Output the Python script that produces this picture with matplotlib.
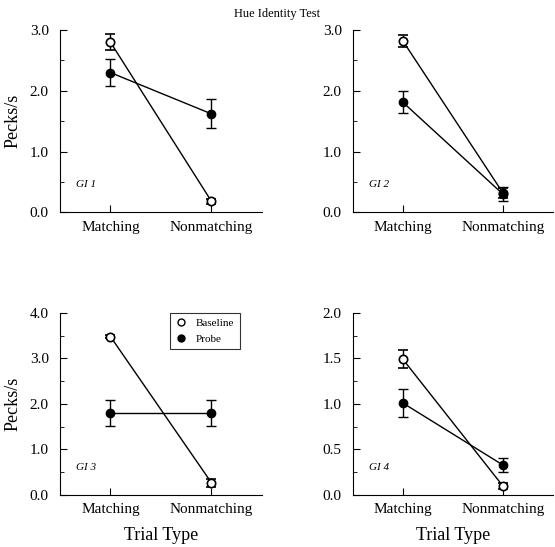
import matplotlib
matplotlib.use('Agg')
import matplotlib.pyplot as plt
from matplotlib.ticker import MultipleLocator
from matplotlib.lines import Line2D

plt.rcParams['font.family'] = ['Liberation Serif', 'DejaVu Serif']

trial_types = ['Matching', 'Nonmatching']
panel_names = ['GI 1', 'GI 2', 'GI 3', 'GI 4']

baseline = [[2.80, 0.18], [2.82, 0.32], [3.48, 0.27], [1.49, 0.10]]
baseline_err = [[0.13, 0.04], [0.10, 0.08], [0.03, 0.09], [0.10, 0.03]]
probe = [[2.30, 1.62], [1.81, 0.30], [1.80, 1.80], [1.01, 0.33]]
probe_err = [[0.22, 0.24], [0.18, 0.12], [0.28, 0.28], [0.15, 0.08]]

y_max = [3.0, 3.0, 4.0, 2.0]
y_major = [1.0, 1.0, 1.0, 0.5]
y_minor = [0.5, 0.5, 0.5, 0.25]

fig = plt.figure(figsize=(5.55, 5.47), dpi=100)
positions = [
    [0.108, 0.612, 0.364, 0.333],
    [0.636, 0.612, 0.360, 0.333],
    [0.108, 0.095, 0.364, 0.333],
    [0.636, 0.095, 0.360, 0.333],
]

x = [0, 1]
for i, pos in enumerate(positions):
    ax = fig.add_axes(pos)
    ax.errorbar(x, baseline[i], yerr=baseline_err[i], color='black', marker='o',
                markersize=6, mfc='white', mec='black', mew=1.2, lw=1, capsize=3.5,
                elinewidth=1, capthick=1, zorder=3)
    ax.errorbar(x, probe[i], yerr=probe_err[i], color='black', marker='o',
                markersize=6, mfc='black', mec='black', lw=1, capsize=3.5,
                elinewidth=1, capthick=1, zorder=4)
    ax.set_xlim(-0.5, 1.5)
    ax.set_ylim(0, y_max[i])
    ax.set_xticks(x)
    ax.set_xticklabels(trial_types, fontsize=11)
    ax.yaxis.set_major_locator(MultipleLocator(y_major[i]))
    ax.yaxis.set_minor_locator(MultipleLocator(y_minor[i]))
    ax.yaxis.set_major_formatter(plt.FormatStrFormatter('%.1f'))
    ax.tick_params(axis='both', which='both', direction='in', labelsize=11)
    ax.tick_params(axis='y', which='major', length=5, pad=8)
    ax.tick_params(axis='y', which='minor', length=3)
    ax.tick_params(axis='x', which='major', length=5, pad=6)
    ax.spines['top'].set_visible(False)
    ax.spines['right'].set_visible(False)
    ax.text(0.08, 0.15, panel_names[i], transform=ax.transAxes, fontsize=8,
            style='italic', va='center', ha='left')
    if i in (0, 2):
        ax.set_ylabel('Pecks/s', fontsize=13, labelpad=6)
    if i in (2, 3):
        ax.set_xlabel('Trial Type', fontsize=13, labelpad=8)
    if i == 2:
        handles = [
            Line2D([], [], ls='none', marker='o', markersize=5, mfc='white', mec='black'),
            Line2D([], [], ls='none', marker='o', markersize=5, mfc='black', mec='black'),
        ]
        leg = ax.legend(handles, ['Baseline', 'Probe'], loc='upper right', fontsize=8,
                        frameon=True, fancybox=False, edgecolor='black',
                        handlelength=1.0, borderpad=0.5, labelspacing=0.5,
                        borderaxespad=0, bbox_to_anchor=(0.89, 1.0))
        leg.get_frame().set_linewidth(0.8)

fig.text(0.5, 0.985, 'Hue Identity Test', ha='center', va='top', fontsize=9)
fig.savefig('out.png', dpi=100)
